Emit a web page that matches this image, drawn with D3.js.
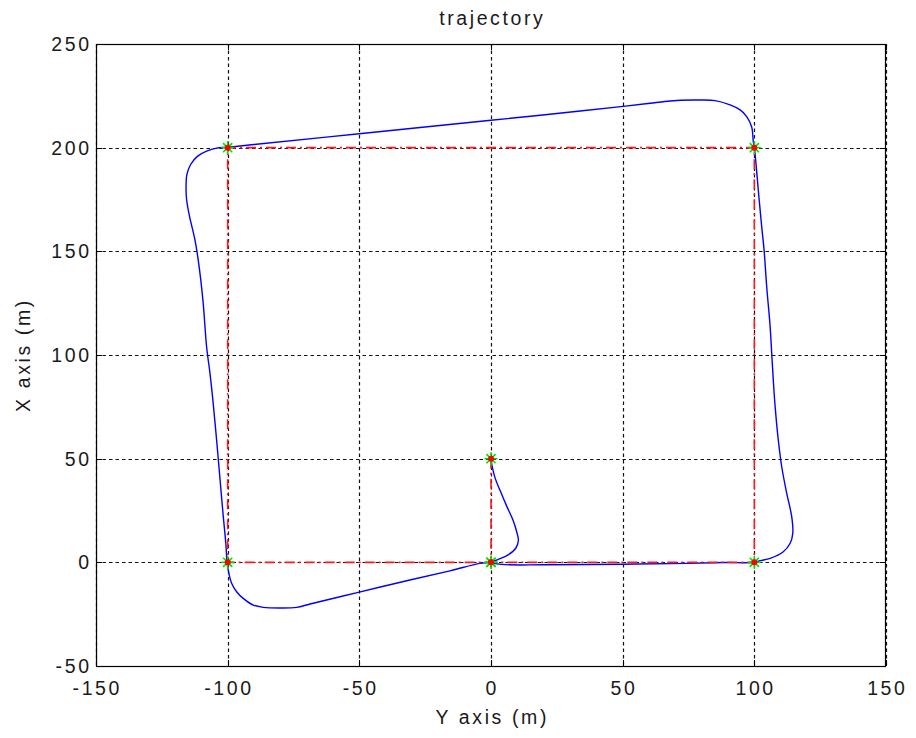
<!DOCTYPE html>
<html>
<head>
<meta charset="utf-8">
<script src="https://cdn.jsdelivr.net/npm/d3@7"></script>
<style>
  body { margin: 0; background: #fff; }
  text { font-family: "Liberation Sans", Arial, Helvetica, sans-serif; fill: #1a1a1a; }
</style>
</head>
<body>
<svg id="chart" width="916" height="738"></svg>
<script>
// Axis ticks
const xTicks = [-150, -100, -50, 0, 50, 100, 150];
const yTicks = [-50, 0, 50, 100, 150, 200, 250];

// Reference path through the waypoints (horizontal = Y, vertical = X)
const wayY = [0, 0, 100, 100, -100, -100, 0];
const wayX = [50, 0, 0, 200, 200, 0, 0];

// Flown trajectory
const trajY = [
  0, 0.4, 1.6, 3.5, 6, 8.3, 9.8, 10.4, 9.4, 6.5, 2.6, 0,
  4, 20, 50, 75, 88, 100,
  102.2, 106, 111, 113.6, 114.6, 114.2, 112.3, 110.4, 109.1, 107.9, 107.2, 106.6, 106,
  104.7, 103.7, 102.8, 101.5, 100.5, 100, 99.6, 99, 97.1, 94.6, 90.8, 85.1, 79.4, 72,
  66, 60.4, 50.2, 25, 0, -50, -90, -100,
  -104.2, -108, -111.5, -114, -115.5, -115.8, -115.6, -114.5, -112.5, -111.2, -109.4,
  -108, -106.7, -105.6, -104.2, -102.9, -101.8, -100.6, -100.3,
  -99.8, -98.5, -96.6, -94.1, -90.3, -86.5, -80, -73.8, -68.7, -50.4, -30.8, -15.6, -4.2, 0
];
const trajX = [
  50, 46.5, 40.5, 34.5, 27, 20.5, 14.5, 10.5, 6.8, 3.6, 1.3, 0,
  -1.0, -1.2, -0.9, -0.5, -0.1, 0,
  0.8, 1.9, 5.1, 9.2, 14, 22, 33.3, 46.1, 59, 75.1, 87.9, 100.8, 113.7,
  132.9, 150.7, 161.9, 179.6, 194.1, 200, 203, 210, 215, 218.2, 220.6, 222.7, 223, 222.9,
  222.3, 221.4, 219.9, 216.5, 213.2, 206.7, 201.5, 200.2,
  199.8, 198.3, 195.8, 192, 187, 182, 175, 167, 156, 146, 126.5,
  104, 91, 78, 59, 40, 24, 7.5, 0.5,
  -3.7, -10.1, -14.2, -17.4, -20.6, -21.7, -22, -21.7, -20.1, -14.5, -8.5, -4.1, -0.5, 0
];

const svg = d3.select("#chart");
const L = 96, R = 886, T = 44, B = 666;
const x = d3.scaleLinear().domain([-150, 150]).range([L, R]);
const y = d3.scaleLinear().domain([-50, 250]).range([B, T]);

// Grid
const grid = svg.append("g").attr("stroke", "#111").attr("stroke-width", 1.2)
  .attr("stroke-dasharray", "3.5,3").attr("fill", "none");
xTicks.forEach(t => grid.append("line")
  .attr("x1", Math.round(x(t)) + 0.5).attr("x2", Math.round(x(t)) + 0.5)
  .attr("y1", T).attr("y2", B));
yTicks.forEach(t => grid.append("line")
  .attr("y1", Math.round(y(t)) + 0.5).attr("y2", Math.round(y(t)) + 0.5)
  .attr("x1", L).attr("x2", R));

// Trajectory
const traj = trajY.map((v, i) => [v, trajX[i]]);
svg.append("path").datum(traj)
  .attr("fill", "none").attr("stroke", "#0000ff").attr("stroke-width", 1.4)
  .attr("d", d3.line().x(d => x(d[0])).y(d => y(d[1])).curve(d3.curveCatmullRom.alpha(0.5)));

// Reference path
const way = wayY.map((v, i) => [v, wayX[i]]);
svg.append("path").datum(way)
  .attr("fill", "none").attr("stroke", "#ff1a1a").attr("stroke-width", 1.6)
  .attr("stroke-dasharray", "10,4,2,4")
  .attr("d", d3.line().x(d => x(d[0])).y(d => y(d[1])));

// Waypoint markers
const mk = svg.append("g");
way.forEach(d => {
  const g = mk.append("g").attr("transform", `translate(${x(d[0])},${y(d[1])})`);
  const r = 6.5;
  [0, 45, 90, 135].forEach(a => {
    const rad = a * Math.PI / 180;
    g.append("line")
      .attr("x1", -r * Math.cos(rad)).attr("y1", -r * Math.sin(rad))
      .attr("x2", r * Math.cos(rad)).attr("y2", r * Math.sin(rad))
      .attr("stroke", "#00e000").attr("stroke-width", 1.6);
  });
  g.append("circle").attr("r", 3).attr("fill", "#ff0000");
});

// Axes box
svg.append("rect").attr("x", L + 0.5).attr("y", T + 0.5)
  .attr("width", R - L - 1).attr("height", B - T)
  .attr("fill", "none").attr("stroke", "#000").attr("stroke-width", 1.2);

// Inward ticks on all four sides
const tk = 6;
const ticks = svg.append("g").attr("stroke", "#000").attr("stroke-width", 1);
xTicks.forEach(t => {
  const px = Math.round(x(t)) + 0.5;
  ticks.append("line").attr("x1", px).attr("x2", px).attr("y1", B).attr("y2", B - tk);
  ticks.append("line").attr("x1", px).attr("x2", px).attr("y1", T).attr("y2", T + tk);
});
yTicks.forEach(t => {
  const py = Math.round(y(t)) + 0.5;
  ticks.append("line").attr("y1", py).attr("y2", py).attr("x1", L).attr("x2", L + tk);
  ticks.append("line").attr("y1", py).attr("y2", py).attr("x1", R).attr("x2", R - tk);
});

// Tick labels
const fs = 19.5, ls = 2.6;
xTicks.forEach(t => svg.append("text")
  .attr("x", x(t) + ls / 2).attr("y", 695)
  .attr("text-anchor", "middle").attr("font-size", fs).attr("letter-spacing", ls)
  .text(t));
yTicks.forEach(t => svg.append("text")
  .attr("x", 89 + ls).attr("y", y(t) + 7)
  .attr("text-anchor", "end").attr("font-size", fs).attr("letter-spacing", ls)
  .text(t));

// Title and axis labels
svg.append("text").attr("x", 491 + ls / 2).attr("y", 25)
  .attr("text-anchor", "middle").attr("font-size", fs).attr("letter-spacing", ls)
  .text("trajectory");
svg.append("text").attr("x", 491 + ls / 2).attr("y", 724)
  .attr("text-anchor", "middle").attr("font-size", fs).attr("letter-spacing", ls)
  .text("Y axis (m)");
svg.append("text").attr("transform", "translate(30,355) rotate(-90)")
  .attr("text-anchor", "middle").attr("font-size", fs).attr("letter-spacing", ls)
  .text("X axis (m)");
</script>
</body>
</html>
